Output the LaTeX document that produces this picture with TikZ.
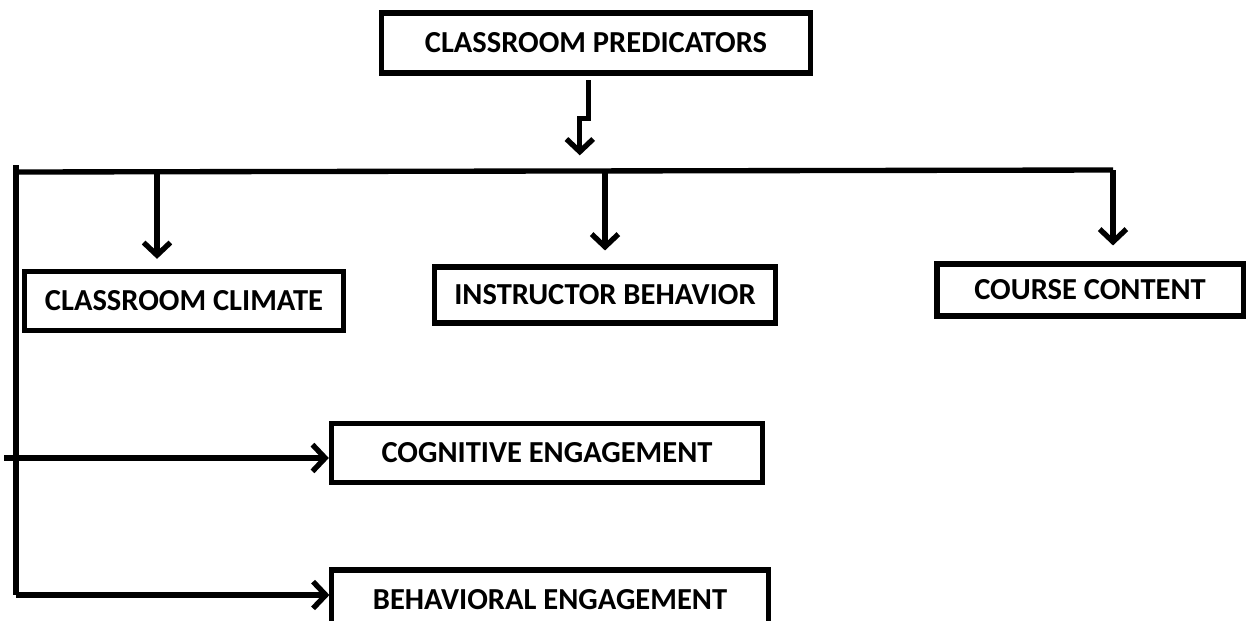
\documentclass[tikz,border=0pt]{standalone}
\usepackage{fontspec}
\setmainfont{Carlito}
\usetikzlibrary{arrows.meta}
\usetikzlibrary{positioning}

\begin{document}
\begin{tikzpicture}[x=0.025cm, y=-0.025cm,
                block/.style={draw, line width=3.6pt, inner sep=0pt,
                        font=\fontsize{21.7}{26}\selectfont\bfseries},
                link/.style={line width=3.8pt},
                arrow/.style={link, -{Straight Barb[length=9pt, width=19pt]}},
            ]
            \useasboundingbox (0,0) rectangle (1247,620);

            \node[block, minimum width=10.7cm, minimum height=1.5cm] (predictors) at (596,43) {CLASSROOM PREDICATORS};
            \node[block, minimum width=7.95cm, minimum height=1.48cm] (climate) at (184,301) {CLASSROOM CLIMATE};
            \node[block, minimum width=8.5cm, minimum height=1.4cm] (instructor) at (605,295) {INSTRUCTOR BEHAVIOR};
            \node[block, minimum width=7.65cm, minimum height=1.3cm] (content) at (1090,290) {COURSE CONTENT};
            \node[block, minimum width=10.78cm, minimum height=1.48cm] (cognitive) at (547,453) {COGNITIVE ENGAGEMENT};
            \node[block, minimum width=10.9cm, minimum height=1.5cm] (behavioral) at (550,600) {BEHAVIORAL ENGAGEMENT};

            % bus line and the left trunk
            \coordinate (busL) at (16,172);
            \coordinate (busR) at (1113,170);
            \coordinate (trunk) at (16,165);
            \coordinate (feed) at (4,458);

            \draw[arrow] ([xshift=-0.18cm, yshift=-0.12cm]predictors.south) -- ++(0,38) -- ++(-9,0) -- ++(0,37);
            \draw[link] (busL) -- (busR);
            \draw[link] (trunk) -- (16,595);

            \draw[arrow, shorten >=0.25cm] (busL -| 157,0) -- (climate.north -| 157,0);
            \draw[arrow, shorten >=0.35cm] (busL -| instructor.north) -- (instructor.north);
            \draw[link] (busR) -- ++(0,2);
            \draw[arrow, shorten >=0.4cm] (busR) -- (content.north -| busR);

            \draw[arrow] (feed) -- (feed -| cognitive.west);
            \draw[arrow] (16,595) -- (behavioral.west |- 0,595);
        \end{tikzpicture}
\end{document}
